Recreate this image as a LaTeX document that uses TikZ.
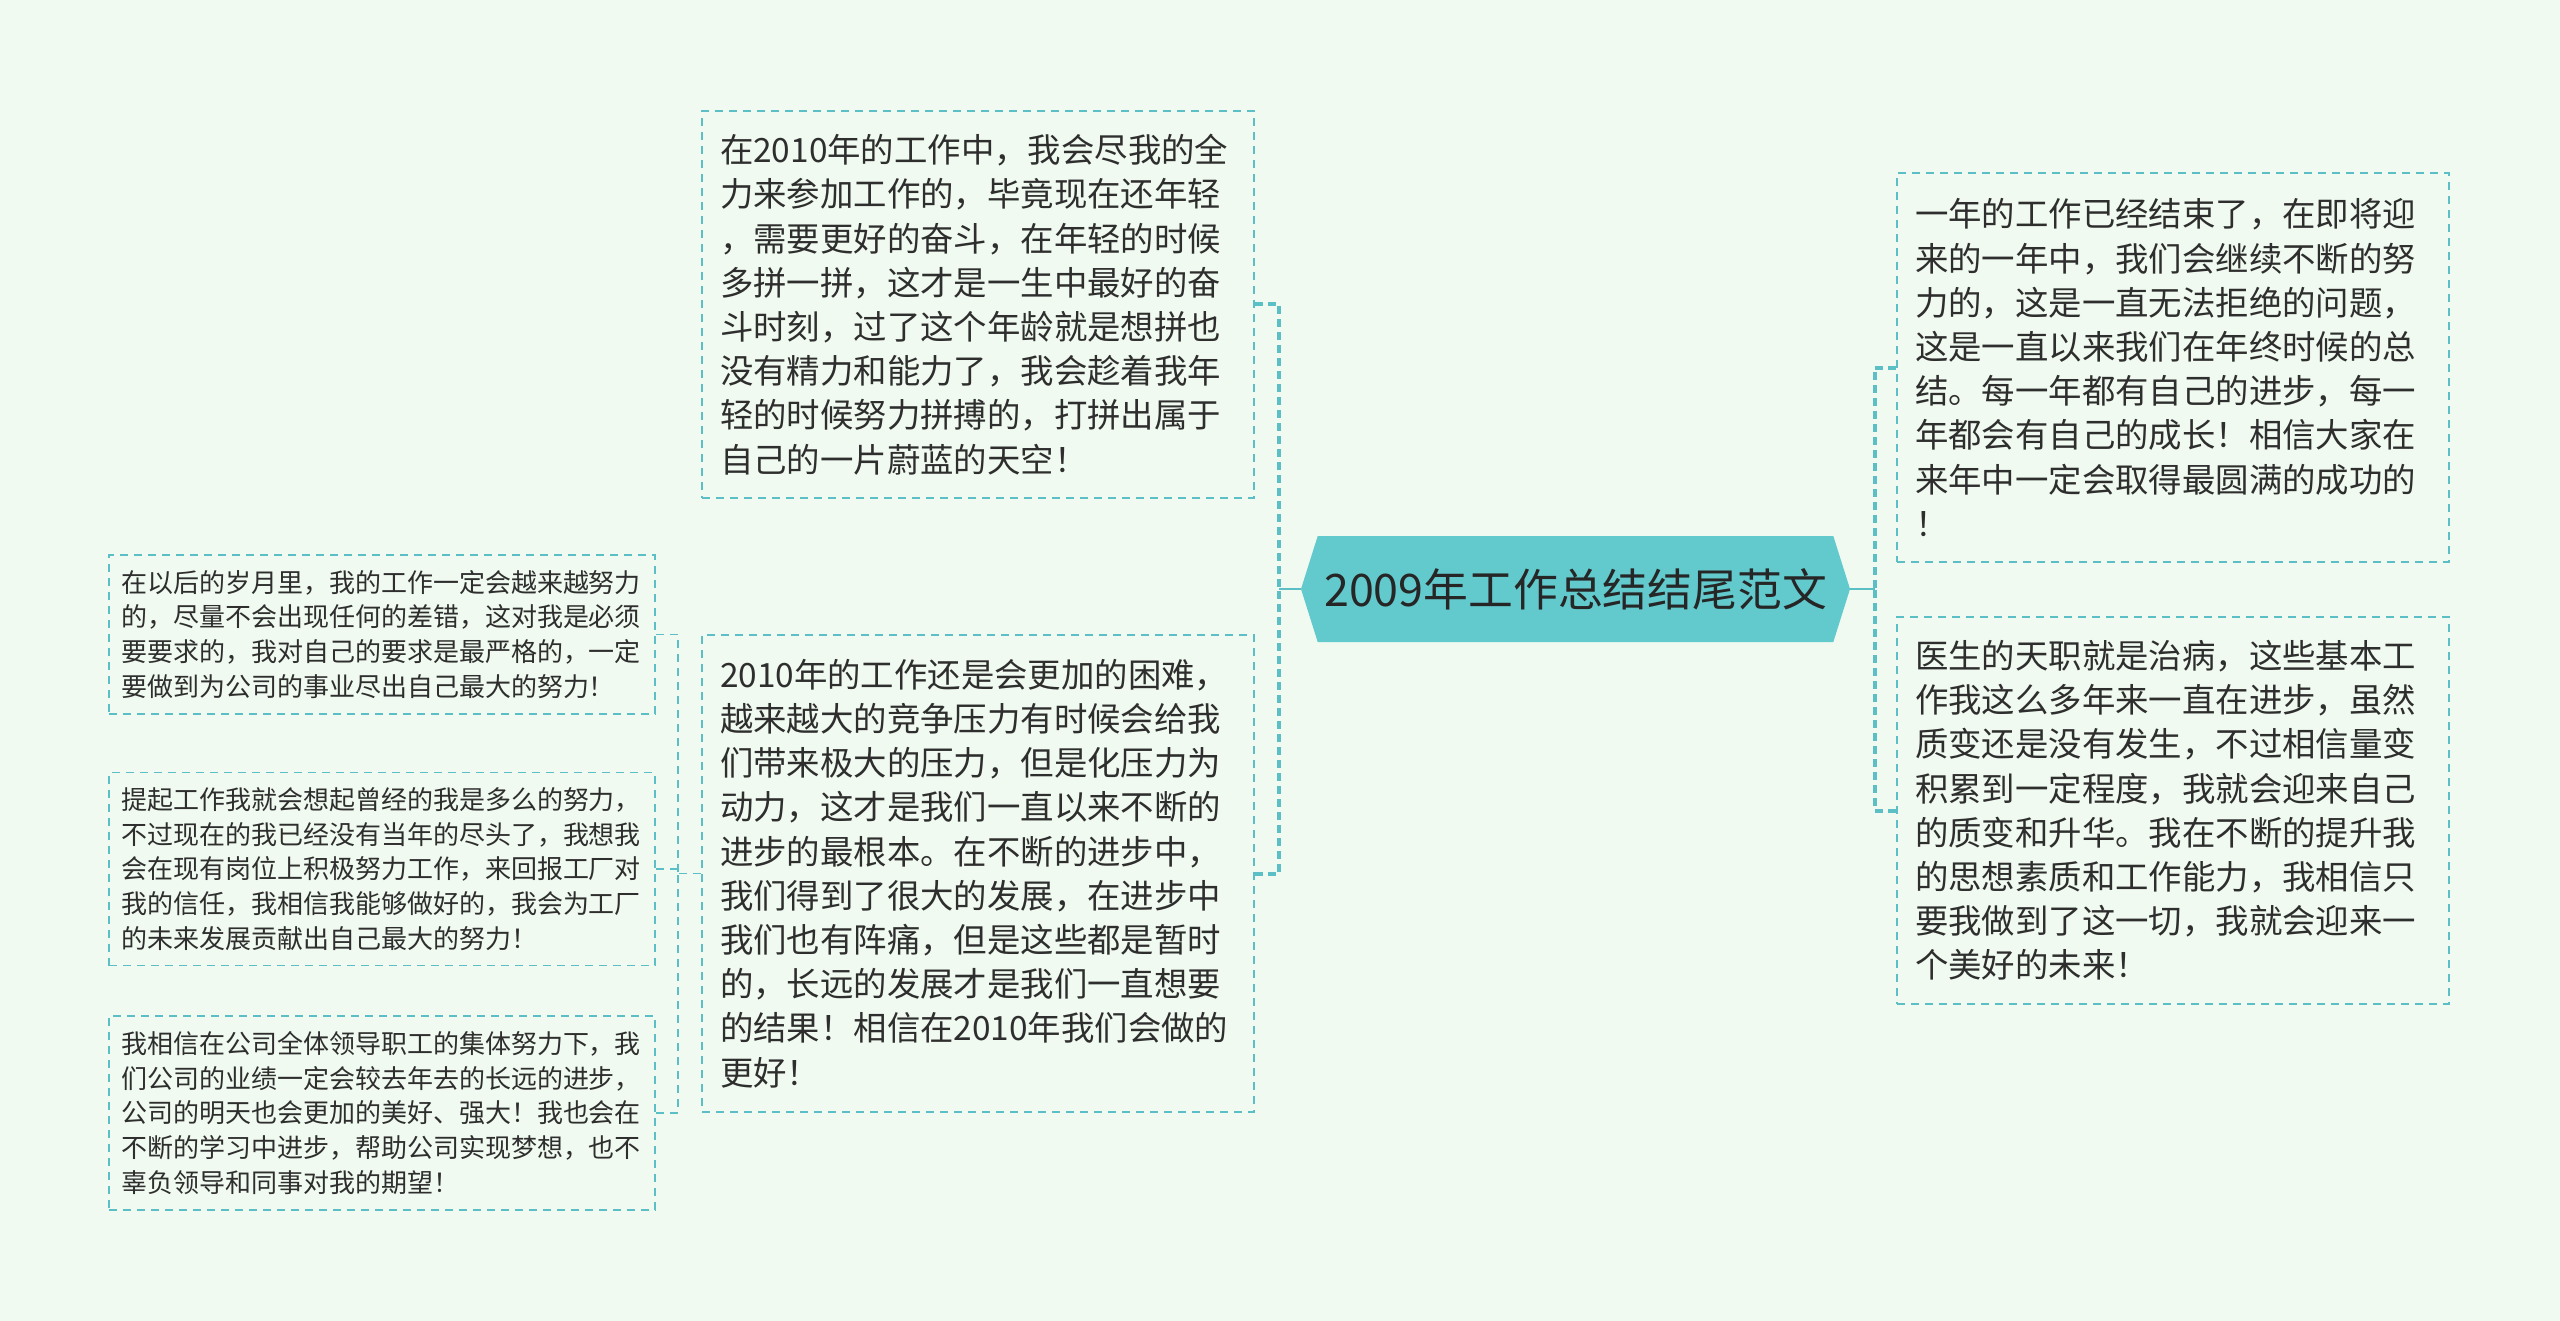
\documentclass[tikz,border=0pt]{standalone}
\usepackage{fontspec}
\newfontfamily\cjk{Noto Sans CJK SC}
\usepackage{xcolor}
\usetikzlibrary{shapes.symbols}
\definecolor{bgmint}{HTML}{F0FAF0}
\definecolor{tealline}{HTML}{5CBFC6}
\definecolor{tealfill}{HTML}{62C9CD}
\definecolor{inkgray}{HTML}{2E2E2E}

\begin{document}
\begin{tikzpicture}[x=0.5pt,y=-0.5pt,
  card/.style={draw=tealline,line width=0.8pt,dash pattern=on 4pt off 3pt,
    text=inkgray,align=left,inner ysep=4pt},
  bigcard/.style={card,text width=258pt,inner xsep=9pt,
    font=\cjk\fontsize{16.7}{22.1}\selectfont},
  smallcard/.style={card,text width=261pt,inner xsep=6pt,
    font=\cjk\fontsize{13}{17.4}\selectfont},
  link/.style={draw=tealline,line width=2pt,dash pattern=on 4pt off 2.5pt},
  sublink/.style={draw=tealline,line width=0.9pt,dash pattern=on 4pt off 3pt},
  stem/.style={draw=tealline,line width=1.2pt}]
  \fill[bgmint] (0,0) rectangle (2560,1321);
  \useasboundingbox (0,0) rectangle (2560,1321);

  \node[signal,signal to=west and east,signal pointer angle=145,fill=tealfill,
    minimum width=274.5pt,minimum height=53pt,inner sep=0pt,text=black!85,
    font=\cjk\fontsize{22.4}{26}\selectfont] (root) at (1575.5,589) {2009年工作总结结尾范文};

  \node[bigcard,minimum height=193.5pt] (t1) at (978,304.5) {在2010年的工作中，我会尽我的全\\
力来参加工作的，毕竟现在还年轻\\
，需要更好的奋斗，在年轻的时候\\
多拼一拼，这才是一生中最好的奋\\
斗时刻，过了这个年龄就是想拼也\\
没有精力和能力了，我会趁着我年\\
轻的时候努力拼搏的，打拼出属于\\
自己的一片蔚蓝的天空！};
  \node[bigcard,minimum height=238.5pt] (t2) at (978,873.5) {2010年的工作还是会更加的困难，\\
越来越大的竞争压力有时候会给我\\
们带来极大的压力，但是化压力为\\
动力，这才是我们一直以来不断的\\
进步的最根本。在不断的进步中，\\
我们得到了很大的发展，在进步中\\
我们也有阵痛，但是这些都是暂时\\
的，长远的发展才是我们一直想要\\
的结果！相信在2010年我们会做的\\
更好！};
  \node[bigcard,minimum height=194.5pt] (r1) at (2173,367.5) {一年的工作已经结束了，在即将迎\\
来的一年中，我们会继续不断的努\\
力的，这是一直无法拒绝的问题，\\
这是一直以来我们在年终时候的总\\
结。每一年都有自己的进步，每一\\
年都会有自己的成长！相信大家在\\
来年中一定会取得最圆满的成功的\\
！};
  \node[bigcard,minimum height=193.5pt] (r2) at (2173,810.5) {医生的天职就是治病，这些基本工\\
作我这么多年来一直在进步，虽然\\
质变还是没有发生，不过相信量变\\
积累到一定程度，我就会迎来自己\\
的质变和升华。我在不断的提升我\\
的思想素质和工作能力，我相信只\\
要我做到了这一切，我就会迎来一\\
个美好的未来！};

  \node[smallcard,minimum height=79.5pt] (l1) at (382,634.5) {在以后的岁月里，我的工作一定会越来越努力\\
的，尽量不会出现任何的差错，这对我是必须\\
要要求的，我对自己的要求是最严格的，一定\\
要做到为公司的事业尽出自己最大的努力！};
  \node[smallcard,minimum height=96.5pt] (l2) at (382,869) {提起工作我就会想起曾经的我是多么的努力，\\
不过现在的我已经没有当年的尽头了，我想我\\
会在现有岗位上积极努力工作，来回报工厂对\\
我的信任，我相信我能够做好的，我会为工厂\\
的未来发展贡献出自己最大的努力！};
  \node[smallcard,minimum height=97pt] (l3) at (382,1113) {我相信在公司全体领导职工的集体努力下，我\\
们公司的业绩一定会较去年去的长远的进步，\\
公司的明天也会更加的美好、强大！我也会在\\
不断的学习中进步，帮助公司实现梦想，也不\\
辜负领导和同事对我的期望！};

  \coordinate (lbus) at (1279,589);
  \coordinate (rbus) at (1875,589);
  \coordinate (mbus) at (678,873.5);

  \draw[stem] (root.west) -- (lbus);
  \draw[link] (t1.east) -| (lbus);
  \draw[link] (t2.east) -| (lbus);
  \draw[stem] (root.east) -- (rbus);
  \draw[link] (r1.west) -| (rbus);
  \draw[link] (r2.west) -| (rbus);
  \draw[sublink] (t2.west) -- (mbus);
  \draw[sublink] (l1.east) -| (mbus);
  \draw[sublink] (l2.east) -| (mbus);
  \draw[sublink] (l3.east) -| (mbus);
\end{tikzpicture}
\end{document}
